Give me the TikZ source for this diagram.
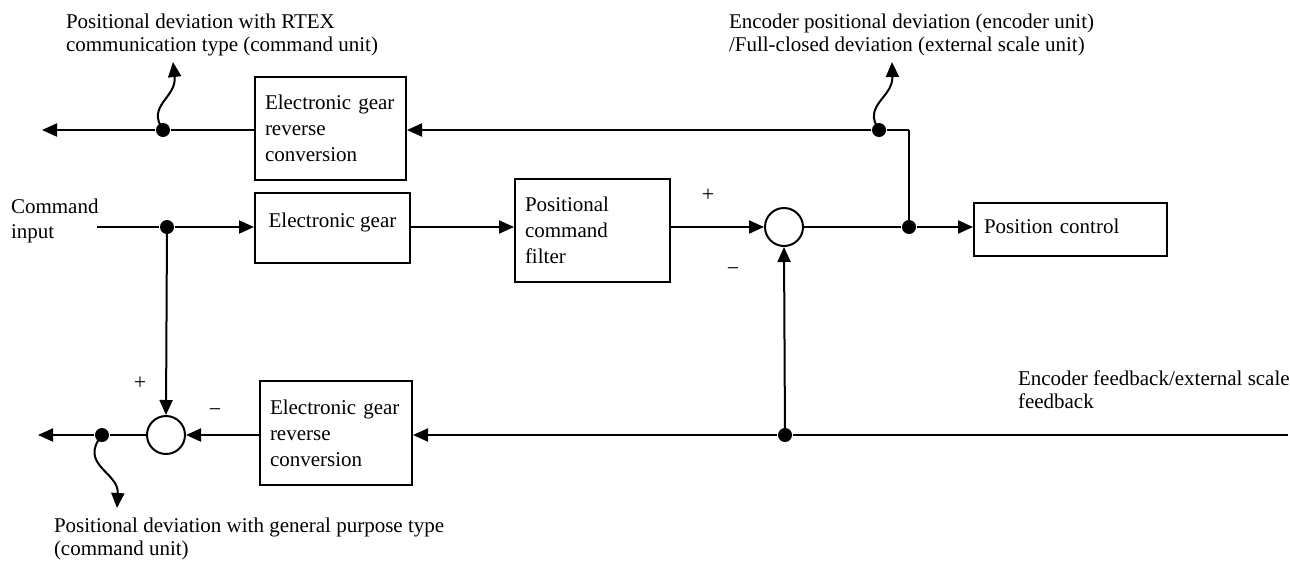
\documentclass[tikz,border=0pt]{standalone}
\usepackage{fontspec}
\setmainfont{Liberation Serif}
\usetikzlibrary{arrows.meta}
\begin{document}
\begin{tikzpicture}[x=1pt,y=-1pt,
  line width=2pt,
  arr/.style={-{Triangle[length=15pt,width=13pt]}},
  blk/.style={draw,line width=2pt,rectangle,inner xsep=10pt,inner ysep=0pt,align=left,
    font=\fontsize{21}{26}\selectfont},
  sumc/.style={draw,line width=2pt,circle,minimum size=38pt,inner sep=0pt},
  dotc/.style={fill,circle,minimum size=14pt,inner sep=0pt},
  lbl/.style={anchor=north west,inner sep=0pt,align=left,font=\fontsize{21}{23}\selectfont},
  sgn/.style={inner sep=0pt,font=\fontsize{22}{22}\selectfont}]
\useasboundingbox (0,0) rectangle (1290,568);

% blocks
\node[blk,minimum width=151pt,minimum height=103pt,text width=131pt] (rev1) at (330.5,128.5)
  {Electronic gear\\reverse\\conversion};
\node[blk,minimum width=155pt,minimum height=70pt,align=center,text depth=16pt] (gear) at (332.5,228)
  {Electronic gear};
\node[blk,minimum width=155pt,minimum height=103pt,text width=135pt] (filt) at (592.5,230.5)
  {Positional\\command\\filter};
\node[blk,minimum width=193pt,minimum height=53pt,text width=173pt,text depth=7pt] (pc) at (1070.5,229.5)
  {Position control};
\node[blk,minimum width=152pt,minimum height=104pt,text width=132pt] (rev2) at (336,433)
  {Electronic gear\\reverse\\conversion};

% summing points
\node[sumc] (sum1) at (784,227) {};
\node[sumc] (sum2) at (166,435) {};

% branch dots
\node[dotc] (d1) at (163,130) {};
\node[dotc] (d2) at (879,130) {};
\node[dotc] (d3) at (909,227) {};
\node[dotc] (d4) at (167,227) {};
\node[dotc] (d5) at (785,435) {};
\node[dotc] (d6) at (102,435) {};

% free ends
\coordinate (c1) at (909,130);
\coordinate (c0) at (97,227);
\coordinate (e1) at (42,130);
\coordinate (e2) at (38,435);
\coordinate (e3) at (1288,435);
\coordinate (w1) at (173,62);
\coordinate (w2) at (892,62);
\coordinate (w3) at (117,508);

% labels
\node[lbl] (l1) at (65,12.5) {Positional deviation with RTEX\\communication type (command unit)};
\node[lbl] (l2) at (728,12.5) {Encoder positional deviation (encoder unit)\\/Full-closed deviation (external scale unit)};
\node[lbl] (l3) at (53,516.5) {Positional deviation with general purpose type\\(command unit)};
\node[lbl] (l4) at (1017,370) {Encoder feedback/external scale\\feedback};
\node[lbl,font=\fontsize{21}{25}\selectfont] (l5) at (10,197.5) {Command\\input};

% signs
\node[sgn] (p1) at (708,195) {+};
\node[sgn] (m1) at (733,272) {−};
\node[sgn] (p2) at (140,383) {+};
\node[sgn] (m2) at (215,413) {−};

% connectors
\draw[arr] (c1) -- (d2) -- (rev1.east |- c1);
\draw[arr] (rev1.west |- d1) -- (d1) -- (e1);
\draw (d3.center) -- (c1);
\draw[arr] (c0) -- (d4) -- (gear.west |- c0);
\draw[arr] (gear.east |- c0) -- (filt.west |- c0);
\draw[arr] (filt.east |- sum1) -- (sum1.west);
\draw (sum1.east) -- (d3);
\draw[arr] (d3) -- (pc.west |- d3);
\draw[arr] (e3) -- (d5) -- (rev2.east |- e3);
\draw[arr] (d5.center) -- (sum1.south);
\draw[arr] (rev2.west |- sum2) -- (sum2.east);
\draw[arr] (sum2.west) -- (d6) -- (e2);
\draw[arr] (d4.center) -- (sum2.north);

% wavy taps
\draw[arr] (d1.center) .. controls (146,105) and (177,98) .. (w1);
\draw[arr] (d2.center) .. controls (862,105) and (893,98) .. (w2);
\draw[arr] (d6.center) .. controls (78,465) and (119,472) .. (w3);
\end{tikzpicture}
\end{document}
